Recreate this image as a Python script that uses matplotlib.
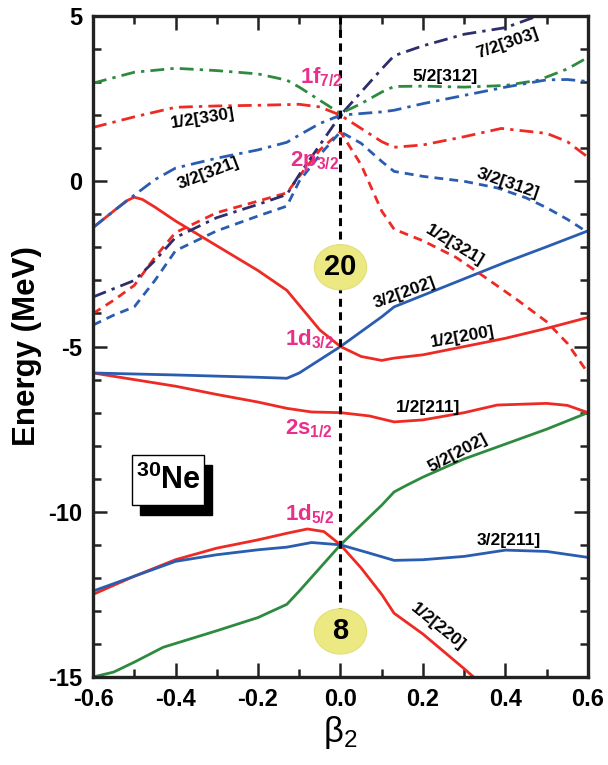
import matplotlib
matplotlib.use("Agg")
import matplotlib.pyplot as plt
from matplotlib.patches import Ellipse, Rectangle
from matplotlib.ticker import MultipleLocator

plt.rcParams["font.family"] = ["Liberation Sans", "DejaVu Sans"]
plt.rcParams["mathtext.fontset"] = "custom"
plt.rcParams["mathtext.rm"] = "Liberation Sans"
plt.rcParams["mathtext.bf"] = "Liberation Sans:bold"
plt.rcParams["mathtext.it"] = "Liberation Sans:italic"

RED = "#ee2a24"
BLUE = "#2a5db0"
GREEN = "#2e8a3e"
NAVY = "#2e2d6e"
MAGENTA = "#e8308a"

# ---- levels (beta2, energy in MeV) ----
# solid: sd shell
x_520 = [-0.6, -0.55, -0.5, -0.43, -0.3, -0.2, -0.13, -0.1, 0.0, 0.1, 0.13, 0.16, 0.2, 0.3, 0.4, 0.5, 0.6]
e_520 = [-15.0, -14.85, -14.55, -14.1, -13.6, -13.2, -12.8, -12.4, -11.0, -9.8, -9.4, -9.2, -8.95, -8.4, -7.95, -7.5, -7.0]

x_122 = [-0.6, -0.5, -0.4, -0.3, -0.2, -0.13, -0.08, -0.04, 0.0, 0.05, 0.1, 0.13, 0.2, 0.3, 0.35]
e_122 = [-12.5, -11.95, -11.45, -11.1, -10.85, -10.65, -10.52, -10.6, -11.0, -11.7, -12.5, -13.07, -13.7, -14.75, -15.3]

x_321 = [-0.6, -0.5, -0.4, -0.3, -0.2, -0.13, -0.07, 0.0, 0.07, 0.13, 0.2, 0.3, 0.4, 0.5, 0.6]
e_321 = [-12.4, -11.95, -11.5, -11.3, -11.15, -11.07, -10.93, -11.0, -11.25, -11.47, -11.45, -11.35, -11.16, -11.2, -11.38]

x_1211 = [-0.6, -0.5, -0.4, -0.3, -0.2, -0.13, -0.07, 0.0, 0.07, 0.13, 0.2, 0.3, 0.38, 0.5, 0.55, 0.6]
e_1211 = [-5.8, -6.0, -6.2, -6.45, -6.68, -6.87, -6.98, -7.0, -7.1, -7.28, -7.22, -7.0, -6.77, -6.72, -6.78, -7.0]

x_322 = [-0.6, -0.4, -0.2, -0.13, -0.1, -0.05, 0.0, 0.05, 0.1, 0.13, 0.2, 0.3, 0.4, 0.5, 0.6]
e_322 = [-5.8, -5.86, -5.93, -5.96, -5.8, -5.4, -5.0, -4.55, -4.1, -3.8, -3.45, -2.95, -2.45, -1.98, -1.5]

x_120 = [-0.6, -0.55, -0.52, -0.5, -0.48, -0.45, -0.4, -0.3, -0.2, -0.13, -0.1, -0.05, 0.0, 0.05, 0.1, 0.13, 0.2, 0.3, 0.4, 0.5, 0.6]
e_120 = [-1.4, -0.9, -0.6, -0.48, -0.55, -0.78, -1.2, -1.95, -2.7, -3.3, -3.75, -4.5, -5.0, -5.3, -5.42, -5.35, -5.25, -5.0, -4.75, -4.45, -4.12]

# dashed: 2p3/2
x_1321 = [-0.6, -0.55, -0.5, -0.45, -0.4, -0.3, -0.2, -0.13, -0.1, -0.05, 0.0, 0.05, 0.1, 0.13, 0.2, 0.28, 0.35, 0.43, 0.5, 0.55, 0.6]
e_1321 = [-4.0, -3.6, -3.15, -2.3, -1.55, -0.95, -0.6, -0.35, 0.15, 0.95, 1.5, 0.5, -0.9, -1.45, -1.8, -2.3, -2.9, -3.6, -4.25, -4.9, -5.8]

x_312 = [-0.6, -0.55, -0.5, -0.45, -0.4, -0.3, -0.2, -0.13, -0.1, -0.05, 0.0, 0.05, 0.1, 0.13, 0.2, 0.3, 0.38, 0.45, 0.5, 0.55, 0.6]
e_312 = [-4.35, -4.05, -3.8, -3.0, -2.1, -1.5, -1.05, -0.75, 0.0, 0.8, 1.5, 1.15, 0.6, 0.3, 0.15, 0.0, -0.2, -0.5, -0.8, -1.15, -1.55]

# dash-dot: 1f7/2
x_303 = [-0.6, -0.5, -0.45, -0.4, -0.3, -0.2, -0.13, -0.1, -0.05, 0.0, 0.05, 0.1, 0.13, 0.2, 0.3, 0.4, 0.5, 0.6]
e_303 = [-3.5, -3.0, -2.4, -1.7, -1.1, -0.7, -0.4, 0.2, 1.1, 2.0, 2.7, 3.4, 3.8, 4.1, 4.45, 4.65, 5.1, 5.6]

x_5312 = [-0.6, -0.5, -0.4, -0.3, -0.2, -0.13, -0.1, -0.05, 0.0, 0.05, 0.1, 0.13, 0.2, 0.3, 0.4, 0.48, 0.55, 0.6]
e_5312 = [2.97, 3.3, 3.42, 3.35, 3.25, 3.06, 2.85, 2.45, 2.05, 2.35, 2.7, 2.87, 2.88, 2.85, 2.9, 3.06, 3.4, 3.75]

x_330 = [-0.6, -0.5, -0.4, -0.3, -0.2, -0.1, -0.05, 0.0, 0.05, 0.1, 0.13, 0.2, 0.3, 0.39, 0.5, 0.55, 0.6]
e_330 = [1.63, 1.95, 2.24, 2.28, 2.3, 2.33, 2.25, 2.0, 1.6, 1.2, 1.03, 1.1, 1.35, 1.6, 1.45, 1.2, 0.73]

x_3321 = [-0.6, -0.55, -0.5, -0.45, -0.4, -0.3, -0.2, -0.13, -0.1, -0.05, 0.0, 0.05, 0.1, 0.13, 0.2, 0.3, 0.4, 0.5, 0.55, 0.6]
e_3321 = [-1.4, -0.9, -0.42, 0.05, 0.4, 0.7, 0.95, 1.18, 1.4, 1.75, 2.0, 2.05, 2.1, 2.15, 2.35, 2.6, 2.85, 3.07, 3.08, 3.02]

# Nilsson labels: text, beta2, energy, rotation
nilsson_labels = [
    ("1/2[330]", -0.335, 1.9, 9),
    ("3/2[321]", -0.321, 0.24, 21),
    ("7/2[303]", 0.406, 4.18, 19),
    ("5/2[312]", 0.253, 3.18, 0),
    ("3/2[312]", 0.406, -0.06, -19),
    ("1/2[321]", 0.278, -1.94, -31),
    ("3/2[202]", 0.156, -3.36, 20),
    ("1/2[200]", 0.297, -4.72, 10),
    ("1/2[211]", 0.212, -6.84, 0),
    ("5/2[202]", 0.285, -8.23, 28),
    ("3/2[211]", 0.408, -10.86, 0),
    ("1/2[220]", 0.236, -13.49, -39),
]

shell_labels = [
    (r"$\mathbf{1f}_{\mathbf{7/2}}$", -0.045, 3.15),
    (r"$\mathbf{2p}_{\mathbf{3/2}}$", -0.062, 0.62),
    (r"$\mathbf{1d}_{\mathbf{3/2}}$", -0.076, -4.78),
    (r"$\mathbf{2s}_{\mathbf{1/2}}$", -0.076, -7.5),
    (r"$\mathbf{1d}_{\mathbf{5/2}}$", -0.076, -10.08),
]

magic = [("20", -2.6), ("8", -13.62)]


def main():
    fig = plt.figure(figsize=(6.08, 7.65), dpi=100)
    ax = fig.add_axes([0.153, 0.115, 0.814, 0.864])

    lw = 2.0
    dash = (0, (3.2, 2.2))
    dashdot = (0, (5, 2.2, 1.2, 2.2))

    ax.plot(x_520, e_520, color=GREEN, lw=lw)
    ax.plot(x_122, e_122, color=RED, lw=lw)
    ax.plot(x_321, e_321, color=BLUE, lw=lw)
    ax.plot(x_1211, e_1211, color=RED, lw=lw)
    ax.plot(x_322, e_322, color=BLUE, lw=lw)
    ax.plot(x_120, e_120, color=RED, lw=lw)

    ax.plot(x_1321, e_1321, color=RED, lw=lw, ls=dash)
    ax.plot(x_312, e_312, color=BLUE, lw=lw, ls=dash)

    ax.plot(x_303, e_303, color=NAVY, lw=lw, ls=dashdot)
    ax.plot(x_5312, e_5312, color=GREEN, lw=lw, ls=dashdot)
    ax.plot(x_330, e_330, color=RED, lw=lw, ls=dashdot)
    ax.plot(x_3321, e_3321, color=BLUE, lw=lw, ls=dashdot)

    # spherical line
    ax.plot([0, 0], [5, -13.0], color="black", lw=2.2, ls=(0, (2.6, 1.8)), zorder=3)

    for txt, y in magic:
        ax.add_patch(Ellipse((0, y), 0.127, 1.37, facecolor="#ece982", edgecolor="#e2de78",
                             lw=0.8, zorder=4))
        ax.text(0, y, txt, ha="center", va="center", fontsize=21, fontweight="bold", zorder=5)

    for txt, x, y, rot in nilsson_labels:
        ax.text(x, y, txt, ha="center", va="center", rotation=rot, fontsize=12.5,
                fontweight="bold", rotation_mode="anchor", zorder=6)

    for txt, x, y in shell_labels:
        ax.text(x, y, txt, ha="center", va="center", fontsize=16, color=MAGENTA, zorder=6)

    # nucleus box with shadow
    ax.add_patch(Rectangle((0.095, 0.245), 0.145, 0.076, transform=ax.transAxes,
                           facecolor="black", edgecolor="black", zorder=6))
    ax.add_patch(Rectangle((0.079, 0.260), 0.145, 0.076, transform=ax.transAxes,
                           facecolor="white", edgecolor="black", lw=1.0, zorder=7))
    ax.text(0.152, 0.297, r"$\mathbf{^{30}Ne}$", transform=ax.transAxes, ha="center",
            va="center", fontsize=22, zorder=8)

    ax.set_xlim(-0.6, 0.6)
    ax.set_ylim(-15, 5)
    ax.xaxis.set_minor_locator(MultipleLocator(0.1))
    ax.yaxis.set_minor_locator(MultipleLocator(1))
    ax.set_xticks([-0.6, -0.4, -0.2, 0.0, 0.2, 0.4, 0.6])
    ax.set_xticklabels(["-0.6", "-0.4", "-0.2", "0.0", "0.2", "0.4", "0.6"])
    ax.set_yticks([-15, -10, -5, 0, 5])
    ax.set_yticklabels(["-15", "-10", "-5", "0", "5"])
    ax.tick_params(which="both", direction="in", top=True, right=True, width=1.8, color="#222222")
    ax.tick_params(which="major", length=10)
    ax.tick_params(which="minor", length=5.5)
    ax.tick_params(axis="both", labelsize=17, pad=8)
    for lab in ax.get_xticklabels() + ax.get_yticklabels():
        lab.set_fontweight("bold")
    for sp in ax.spines.values():
        sp.set_linewidth(2.4)
        sp.set_color("#222222")

    ax.set_ylabel("Energy (MeV)", fontsize=22.5, fontweight="bold", labelpad=4)
    ax.set_xlabel(r"$\mathregular{\beta_2}$", fontsize=25, labelpad=2)

    fig.savefig("out.png", dpi=100)


if __name__ == "__main__":
    main()
